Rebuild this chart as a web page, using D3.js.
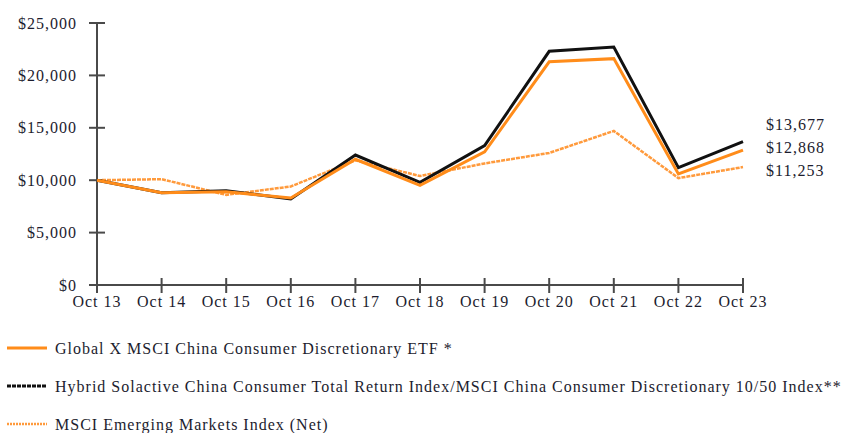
<!DOCTYPE html>
<html>
<head>
<meta charset="utf-8">
<script src="https://cdn.jsdelivr.net/npm/d3@7"></script>
<style>
  body { margin: 0; background: #fff; }
  text { font-family: "Liberation Serif", "DejaVu Serif", serif; fill: #1c1c2e; font-size: 16px; letter-spacing: 1px; }
</style>
</head>
<body>
<div id="chart"></div>
<script>
var years = ["Oct 13","Oct 14","Oct 15","Oct 16","Oct 17","Oct 18","Oct 19","Oct 20","Oct 21","Oct 22","Oct 23"];
var etf    = [10000, 8800, 8900, 8300, 12000, 9500, 12700, 21300, 21600, 10600, 12868];
var hybrid = [10000, 8800, 9000, 8200, 12400, 9800, 13300, 22300, 22700, 11200, 13677];
var msciEm = [10000, 10100, 8600, 9400, 11900, 10400, 11600, 12600, 14700, 10200, 11253];
var yTicks = [0, 5000, 10000, 15000, 20000, 25000];
var seriesNames = [
  "Global X MSCI China Consumer Discretionary ETF *",
  "Hybrid Solactive China Consumer Total Return Index/MSCI China Consumer Discretionary 10/50 Index**",
  "MSCI Emerging Markets Index (Net)"
];

var width = 849, height = 433;
var svg = d3.select("#chart").append("svg")
  .attr("width", width).attr("height", height);

var x = d3.scalePoint().domain(years).range([97, 743]);
var y = d3.scaleLinear().domain([0, 25000]).range([285, 23]);
var fmt = d3.format("$,");

var axisColor = "#4a4a4a";

// y axis
svg.append("line")
  .attr("x1", x(years[0])).attr("x2", x(years[0]))
  .attr("y1", y(25000)).attr("y2", y(0))
  .attr("stroke", axisColor).attr("stroke-width", 2);
svg.selectAll(".ytick").data(yTicks).enter().append("line")
  .attr("x1", 89).attr("x2", 105)
  .attr("y1", function(d) { return y(d); }).attr("y2", function(d) { return y(d); })
  .attr("stroke", axisColor).attr("stroke-width", 2);
svg.selectAll(".ylab").data(yTicks).enter().append("text")
  .attr("x", 77).attr("y", function(d) { return y(d); })
  .attr("dy", "0.35em").attr("text-anchor", "end")
  .text(function(d) { return fmt(d); });

// x axis
svg.append("line")
  .attr("x1", x(years[0])).attr("x2", x(years[years.length - 1]))
  .attr("y1", y(0)).attr("y2", y(0))
  .attr("stroke", axisColor).attr("stroke-width", 2);
svg.selectAll(".xtick").data(years).enter().append("line")
  .attr("x1", function(d) { return x(d); }).attr("x2", function(d) { return x(d); })
  .attr("y1", 278).attr("y2", 293)
  .attr("stroke", axisColor).attr("stroke-width", 2);
svg.selectAll(".xlab").data(years).enter().append("text")
  .attr("x", function(d) { return x(d); }).attr("y", 307)
  .attr("text-anchor", "middle")
  .text(function(d) { return d; });

var line = d3.line()
  .x(function(d, i) { return x(years[i]); })
  .y(function(d) { return y(d); });

var series = [
  { values: msciEm, color: "#ff9a3c", width: 2.5, dash: "4,1" },
  { values: hybrid, color: "#111111", width: 3, dash: null },
  { values: etf, color: "#ff8c1a", width: 3, dash: null }
];

series.forEach(function(s) {
  svg.append("path")
    .datum(s.values)
    .attr("fill", "none")
    .attr("stroke", s.color)
    .attr("stroke-width", s.width)
    .attr("stroke-dasharray", s.dash)
    .attr("stroke-linejoin", "miter")
    .attr("d", line);
});

// end labels
var endVals = [hybrid[10], etf[10], msciEm[10]];
svg.selectAll(".endlab").data(endVals).enter().append("text")
  .attr("x", 766)
  .attr("y", function(d, i) { return 124 + i * 23; })
  .attr("dy", "0.35em")
  .text(function(d) { return fmt(d); });

// legend
var legend = [
  { name: seriesNames[0], color: "#ff8c1a", width: 3, dash: null },
  { name: seriesNames[1], color: "#111111", width: 3, dash: "4,1" },
  { name: seriesNames[2], color: "#ff9a3c", width: 2.5, dash: "2,1" }
];
var lg = svg.selectAll(".leg").data(legend).enter().append("g")
  .attr("transform", function(d, i) { return "translate(0," + (348 + i * 38) + ")"; });
lg.append("line")
  .attr("x1", 7).attr("x2", 47).attr("y1", 0).attr("y2", 0)
  .attr("stroke", function(d) { return d.color; })
  .attr("stroke-width", function(d) { return d.width; })
  .attr("stroke-dasharray", function(d) { return d.dash; });
lg.append("text")
  .attr("x", 55).attr("y", 0).attr("dy", "0.35em")
  .text(function(d) { return d.name; });
</script>
</body>
</html>
